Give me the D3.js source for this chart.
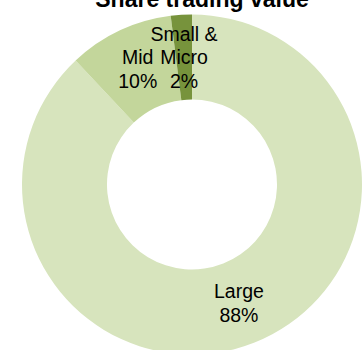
<!DOCTYPE html>
<html>
<head>
<meta charset="utf-8">
<script src="https://cdn.jsdelivr.net/npm/d3@7"></script>
<style>
  html, body { margin: 0; padding: 0; background: #ffffff; }
  svg { display: block; }
  text { font-family: "Liberation Sans", Arial, sans-serif; fill: #000; }
</style>
</head>
<body>
<svg id="chart" width="364" height="350"></svg>
<script>
// Share of trading value by segment
const categories = ["Large", "Mid", "Micro"];
const labelLines = [["Large"], ["Mid"], ["Small &", "Micro"]];
const shares = [88, 10, 2];
const colors = ["#d7e4bd", "#c3d69b", "#77933c"];

const width = 364, height = 350;
const cx = 192, cy = 184.5;
const outerR = 170, innerR = 85;
const fontSize = 19.5, lineH = 23.5, capH = 14;

const svg = d3.select("#chart");

svg.append("text")
  .attr("x", 202)
  .attr("y", 6.5)
  .attr("text-anchor", "middle")
  .style("font-size", "23px")
  .style("font-weight", "bold")
  .text("Share trading value");

const data = categories.map((c, i) => ({ name: c, value: shares[i], lines: labelLines[i], color: colors[i] }));

const pie = d3.pie().sort(null).value(d => d.value);
const arc = d3.arc().innerRadius(innerR).outerRadius(outerR);

const g = svg.append("g").attr("transform", `translate(${cx},${cy})`);
const arcs = pie(data);

g.selectAll("path.slice")
  .data(arcs)
  .join("path")
  .attr("class", "slice")
  .attr("d", arc)
  .attr("fill", d => d.data.color);

// Labels centred on each slice's centroid: name lines then value
const labels = g.selectAll("text.lbl")
  .data(arcs)
  .join("text")
  .attr("class", "lbl")
  .attr("text-anchor", "middle")
  .style("font-size", fontSize + "px")
  .each(function (d) {
    const [x, y] = arc.centroid(d);
    const lines = d.data.lines.concat([d.data.value + "%"]);
    const first = y + capH / 2 - (lines.length - 1) * lineH / 2;
    const t = d3.select(this);
    lines.forEach((ln, i) => {
      t.append("tspan").attr("x", x).attr("y", first + i * lineH).text(ln);
    });
  });
</script>
</body>
</html>
